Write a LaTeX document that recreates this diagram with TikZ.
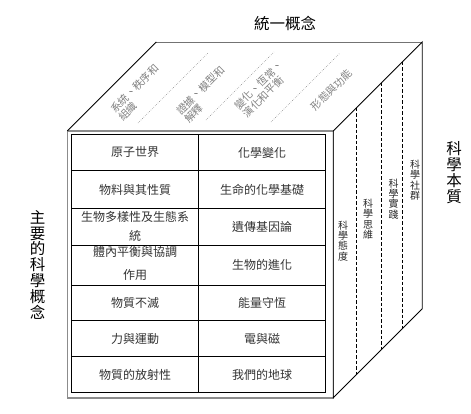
\documentclass[tikz,border=0pt]{standalone}
\usepackage{fontspec}
\setmainfont{Noto Sans CJK TC}
\begin{document}
\begin{tikzpicture}[x=1pt,y=-1pt,
  cell/.style={font=\fontsize{12}{14}\selectfont, text=black!80, align=center, inner sep=0pt},
  toplab/.style={font=\fontsize{10.5}{11.5}\selectfont, text=black!50, rotate=45, align=left, inner sep=0pt},
  sidelab/.style={font=\fontsize{10}{10.4}\selectfont, text=black!85, align=center, inner sep=0pt},
  biglab/.style={font=\fontsize{15.5}{15.8}\selectfont, text=black, align=center, inner sep=0pt},
  cubeedge/.style={black, line width=0.8pt},
  framegray/.style={black!45, line width=1.6pt},
  grid/.style={black, line width=0.8pt},
  facedash/.style={black, line width=0.7pt, dash pattern=on 3.5pt off 2pt},
  facedot/.style={black!50, line width=0.5pt, dash pattern=on 0.6pt off 1.4pt}
]
\useasboundingbox (0,0) rectangle (471,413);

% cube corners
\coordinate (FL) at (67.3,131);
\coordinate (FR) at (333.3,131);
\coordinate (BL) at (156.3,42);
\coordinate (BR) at (422.3,42);
\coordinate (FLB) at (67.3,397.7);
\coordinate (FRB) at (333.3,397.7);
\coordinate (BRB) at (422.3,308.7);

% front face frame
\draw[framegray] (FL) rectangle (FRB);
% cube edges
\draw[black!55, line width=0.8pt] (BL) -- (BR);
\draw[cubeedge] (FL) -- (BL);
\draw[cubeedge] (FR) -- (BR) -- (BRB) -- (FRB) -- (FR);

% table
\coordinate (TL) at (71.7,134.3);
\coordinate (TR) at (325.7,392.5);
\draw[grid] (TL) rectangle (TR);
\draw[grid] (198.3,134.3) -- (198.3,392.5);
\foreach \yy in {170.7,208.3,245,285,320.7,356.7}
  \draw[grid] (71.7,\yy) -- (325.7,\yy);

% right face dashed lines
\coordinate (d1t) at (356.7,107.6); \coordinate (d1b) at (356.7,374.3);
\coordinate (d2t) at (381.7,82.6);  \coordinate (d2b) at (381.7,349.3);
\coordinate (d3t) at (402.7,61.6);  \coordinate (d3b) at (402.7,328.3);
\draw[facedash] (d1t) -- (d1b);
\draw[facedash] (d2t) -- (d2b);
\draw[facedash] (d3t) -- (d3b);

% top face dotted separators
\coordinate (s1a) at (138,123); \coordinate (s1b) at (208,53);
\coordinate (s2a) at (206,120); \coordinate (s2b) at (274,52);
\coordinate (s3a) at (271,122); \coordinate (s3b) at (340,53);
\draw[facedot] (s1a) -- (s1b);
\draw[facedot] (s2a) -- (s2b);
\draw[facedot] (s3a) -- (s3b);

% top face labels
\node[toplab] (t1) at (138.7,92.7) {系統、秩序和\\組織};
\node[toplab] (t2) at (204.5,94.5) {證據、模型和\\解釋};
\node[toplab] (t3) at (263,89) {變化、恆常、\\演化和平衡};
\node[toplab] (t4) at (331.7,90) {形態與功能};

% table cells
\node[cell] (a1) at (135,152.5) {原子世界};
\node[cell] (a2) at (135,189.5) {物料與其性質};
\node[cell, font=\fontsize{12}{18.7}\selectfont] (a3) at (135,226.7) {生物多樣性及生態系\\統};
\node[cell, font=\fontsize{12}{23}\selectfont] (a4) at (135,263.5) {體內平衡與協調\\作用};
\node[cell] (a5) at (135,302.9) {物質不滅};
\node[cell] (a6) at (135,338.7) {力與運動};
\node[cell] (a7) at (135,374.6) {物質的放射性};
\node[cell] (b1) at (262,152.5) {化學變化};
\node[cell] (b2) at (262,189.5) {生命的化學基礎};
\node[cell] (b3) at (262,226.7) {遺傳基因論};
\node[cell] (b4) at (262,265) {生物的進化};
\node[cell] (b5) at (262,302.9) {能量守恆};
\node[cell] (b6) at (262,338.7) {電與磁};
\node[cell] (b7) at (262,374.6) {我們的地球};

% right face labels
\node[sidelab] (r1) at (343,240.8) {科\\學\\態\\度};
\node[sidelab] (r2) at (368,219) {科\\學\\思\\維};
\node[sidelab] (r3) at (393.5,199) {科\\學\\實\\踐};
\node[sidelab] (r4) at (415,180) {科\\學\\社\\群};

% outer titles
\node[biglab] (top) at (285,23.3) {統一概念};
\node[biglab] (right) at (454,172.5) {科\\學\\本\\質};
\node[biglab] (left) at (37.5,264.7) {主\\要\\的\\科\\學\\概\\念};
\end{tikzpicture}
\end{document}
